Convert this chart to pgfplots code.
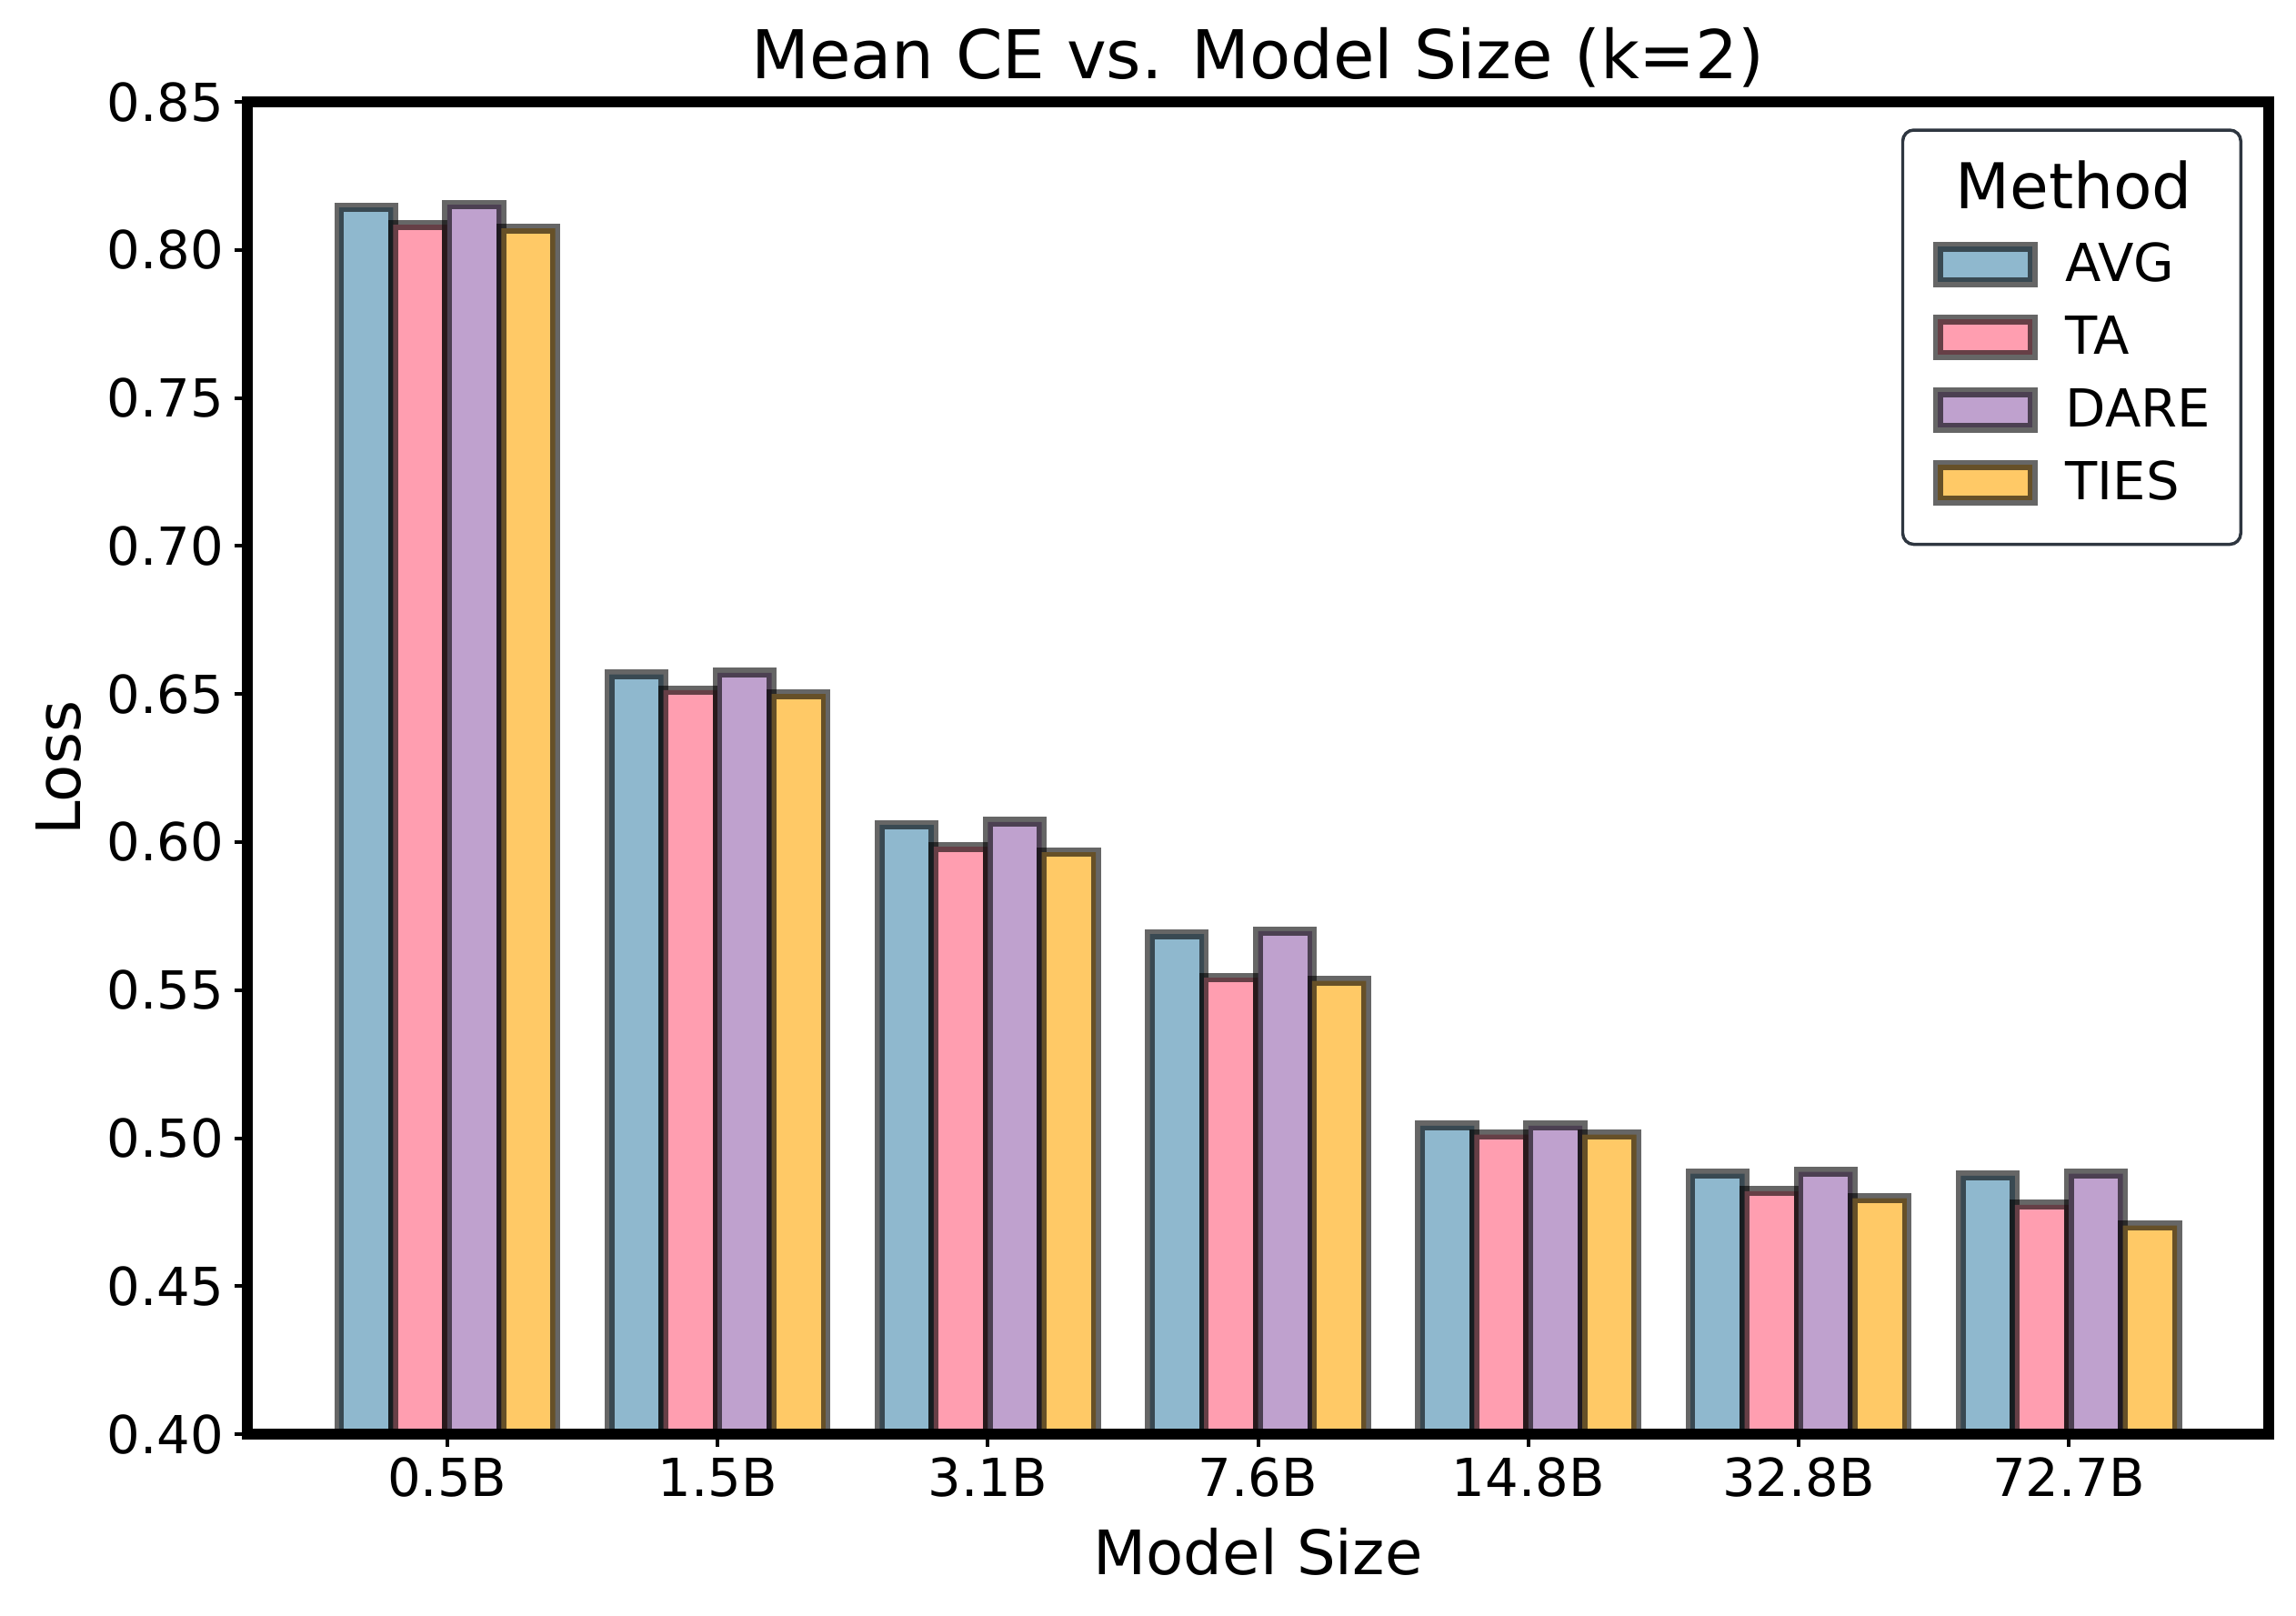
\documentclass[border=0pt]{standalone}
\usepackage{fontspec}
\setmainfont{DejaVu Sans}
\usepackage{pgfplots}
\pgfplotsset{compat=1.18}
\definecolor{cavg}{HTML}{8FB8CE}
\definecolor{cta}{HTML}{FF9EB0}
\definecolor{cdare}{HTML}{BFA1CE}
\definecolor{cties}{HTML}{FFC966}
\definecolor{legedge}{HTML}{2E3640}
\pgfplotsset{
  mybar/.style={fill=#1, draw=black, draw opacity=0.6, line width=3.1pt, sharp corners,
    legend image code/.code={\draw[##1, sharp corners] (0pt,-5.65pt) rectangle (30pt,5.65pt);}},
}
\begin{document}
\begin{tikzpicture}
\begin{axis}[
  scale only axis, width=640.3pt, height=421.9pt,
  xmin=-0.74, xmax=6.74, ymin=0.40, ymax=0.85,
  ytick={0.40,0.45,0.50,0.55,0.60,0.65,0.70,0.75,0.80,0.85},
  xtick={0,1,2,3,4,5,6},
  xticklabels={0.5B,1.5B,3.1B,7.6B,14.8B,32.8B,72.7B},
  yticklabel style={/pgf/number format/.cd, fixed, fixed zerofill, precision=2, assume math mode=true},
  ticklabel style={font=\fontsize{16.6}{20}\selectfont},
  tick align=outside, major tick length=4pt,
  tick style={line width=1.15pt, black},
  xtick pos=lower, ytick pos=left,
  axis line style={line width=3.4pt, black},
  axis on top,
  ybar, bar width=0.2, bar shift=0pt,
  title={Mean CE vs. Model Size (k=2)},
  every axis title/.style={at={(axis description cs:0.5,1)}, anchor=base, yshift=7.5pt, font=\fontsize{21.3}{25}\selectfont},
  xlabel={Model Size},
  ylabel={Loss},
  every axis x label/.style={at={(axis description cs:0.5,0)}, anchor=base, yshift=-44.6pt, font=\fontsize{19.4}{23}\selectfont},
  every axis y label/.style={at={(axis description cs:0,0.5)}, xshift=-52.7pt, rotate=90, anchor=base, font=\fontsize{19.4}{23}\selectfont},
  legend cell align=left,
  legend style={at={(axis description cs:1,1)}, anchor=north east, xshift=-8.4pt, yshift=-8.4pt,
    draw=legedge, line width=1pt, rounded corners=3.5pt, inner xsep=9.6pt, inner ysep=8pt,
    row sep=0pt, column sep=8.9pt,
    nodes={inner sep=0pt, text height=17pt, text depth=6.04pt, font=\fontsize{16.6}{20}\selectfont}},
]
\addlegendimage{empty legend}
\addlegendentry{\hspace*{2.6pt}\makebox[0pt][c]{\fontsize{20}{24}\selectfont Method}}
\addplot[mybar=cavg] coordinates {(-0.3,0.8144) (0.7,0.6566) (1.7,0.6058) (2.7,0.5689) (3.7,0.5042) (4.7,0.4880) (5.7,0.4873)};
\addlegendentry{AVG}
\addplot[mybar=cta] coordinates {(-0.1,0.8085) (0.9,0.6513) (1.9,0.5984) (2.9,0.5542) (3.9,0.5012) (4.9,0.4821) (5.9,0.4775)};
\addlegendentry{TA}
\addplot[mybar=cdare] coordinates {(0.1,0.8153) (1.1,0.6572) (2.1,0.6068) (3.1,0.5699) (4.1,0.5042) (5.1,0.4886) (6.1,0.4880)};
\addlegendentry{DARE}
\addplot[mybar=cties] coordinates {(0.3,0.8073) (1.3,0.6500) (2.3,0.5966) (3.3,0.5531) (4.3,0.5012) (5.3,0.4797) (6.3,0.4705)};
\addlegendentry{TIES}
\end{axis}
\pgfresetboundingbox
\path[use as bounding box] ([xshift=-78.3pt,yshift=-57.3pt]current axis.south west) rectangle ([xshift=8.6pt,yshift=32.3pt]current axis.north east);
\end{tikzpicture}
\end{document}
